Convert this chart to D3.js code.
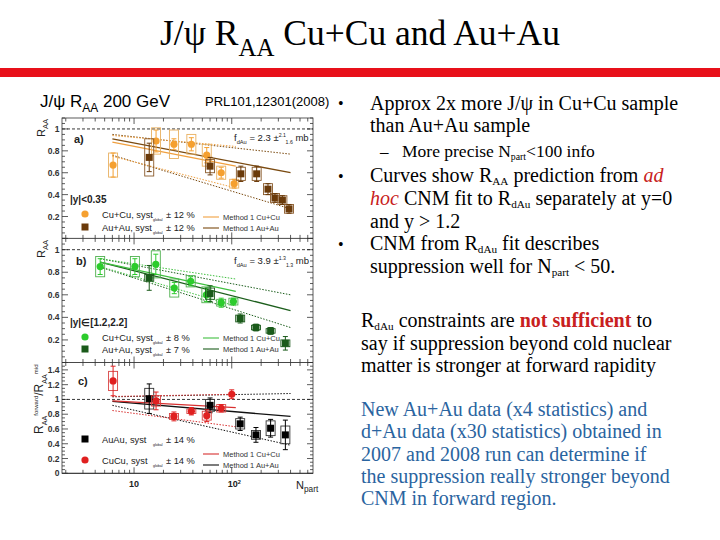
<!DOCTYPE html>
<html>
<head>
<meta charset="utf-8">
<script src="https://cdn.jsdelivr.net/npm/d3@7"></script>
<style>
body { margin: 0; background: #fff; }
svg { display: block; }
</style>
</head>
<body>
<svg width="720" height="540"></svg>
<script>
// ---- panel a) |y|<0.35 ----
var npartCuA = [6.1, 16.8, 25.6, 38.6, 55.5, 78, 106];
var raaCuA   = [0.67, 0.89, 0.86, 0.86, 0.76, 0.60, 0.50];
var statCuA  = [0.11, 0.10, 0.05, 0.06, 0.07, 0.05, 0.04];
var systCuA  = [0.11, 0.12, 0.13, 0.09, 0.10, 0.06, 0.04];
var npartAuA = [14.3, 60, 124, 180, 235, 277, 330, 386];
var raaAuA   = [0.74, 0.66, 0.59, 0.59, 0.45, 0.37, 0.35, 0.27];
var statAuA  = [0.13, 0.08, 0.07, 0.07, 0.05, 0.04, 0.04, 0.04];
var systAuA  = [0.17, 0.06, 0.06, 0.06, 0.05, 0.04, 0.04, 0.04];

// ---- panel b) |y| in [1.2,2.2] ----
var npartCuB = [4.5, 10.2, 16.7, 25.8, 38, 55, 78, 104];
var raaCuB   = [0.85, 0.85, 0.87, 0.66, 0.72, 0.60, 0.53, 0.54];
var statCuB  = [0.07, 0.07, 0.09, 0.05, 0.04, 0.06, 0.04, 0.03];
var systCuB  = [0.09, 0.09, 0.12, 0.08, 0.05, 0.07, 0.03, 0.03];
var npartAuB = [14.3, 60, 122, 177, 250, 354];
var raaAuB   = [0.75, 0.61, 0.39, 0.31, 0.28, 0.17];
var statAuB  = [0.11, 0.07, 0.04, 0.03, 0.03, 0.06];
var systAuB  = [0.03, 0.05, 0.03, 0.02, 0.02, 0.03];

// ---- panel c) forward / mid ----
var npartAuC = [14.3, 60, 122, 177, 250, 354];
var ratioAuC = [1.01, 0.92, 0.67, 0.52, 0.61, 0.52];
var statAuC  = [0.20, 0.10, 0.09, 0.10, 0.12, 0.20];
var systAuC  = [0.14, 0.08, 0.07, 0.06, 0.10, 0.12];
var npartCuC = [6.1, 16.8, 25.6, 38.6, 55.5, 78, 100];
var ratioCuC = [1.25, 0.98, 0.77, 0.84, 0.78, 0.88, 1.07];
var statCuC  = [0.20, 0.12, 0.06, 0.05, 0.08, 0.05, 0.06];
var systCuC  = [0.13, 0.07, 0.04, 0.03, 0.06, 0.05, 0.00];

// ---- CNM fit curves (Method 1): npart end points, then hi / mid / lo values ----
var curveNpartCu = [6, 110];
var curveNpartAu = [6, 400];
var curveNpartCuB = [4.5, 110];
var curveNpartAuB = [4.5, 400];
var curveCuA = {hi: [0.94, 0.84], mid: [0.88, 0.66], lo: [0.75, 0.46]};
var curveAuA = {hi: [0.95, 0.77], mid: [0.91, 0.60], lo: [0.76, 0.27]};
var curveCuB = {hi: [0.92, 0.74], mid: [0.89, 0.63], lo: [0.85, 0.50]};
var curveAuB = {hi: [0.92, 0.60], mid: [0.89, 0.46], lo: [0.845, 0.31]};
var curveCuC = {hi: [1.04, 1.07], mid: [0.98, 0.89], lo: [0.85, 0.63]};
var curveAuC = {hi: [1.035, 1.08], mid: [0.975, 0.77], lo: [0.92, 0.38]};

var yTicksA = [0.2, 0.4, 0.6, 0.8, 1];
var yTicksC = [0, 0.2, 0.4, 0.6, 0.8, 1, 1.2, 1.4];

var svg = d3.select("svg");
var serif = "'Liberation Serif', 'Times New Roman', serif";
var sans = "'Liberation Sans', Arial, sans-serif";

// text with sub/superscripts
function rich(parent, x, y, parts, size, family, fill) {
    var t = parent.append("text")
        .attr("x", x).attr("y", y)
        .attr("font-size", size)
        .attr("font-family", family)
        .attr("fill", fill || "#000")
    var shift = 0
    parts.forEach(function(p) {
        var s = typeof p === "string" ? {t: p} : p
        var target = s.sub ? size * (s.d || 0.3) : s.sup ? -size * 0.38 : 0
        var ts = t.append("tspan").attr("dy", target - shift).text(s.t)
        shift = target
        if (s.sub || s.sup) ts.attr("font-size", size * (s.k || 0.62))
        if (s.fill) ts.attr("fill", s.fill)
        if (s.bold) ts.attr("font-weight", "bold")
        if (s.italic) ts.attr("font-style", "italic")
    })
    return t
}
// subscript used in the slide's body text
function sub(s) { return {t: s, sub: true, k: 0.56, d: 0.15} }

// ---------- slide header ----------
rich(svg, 360, 45, ["J/ψ R", {t: "AA", sub: true, k: 0.7}, " Cu+Cu and Au+Au"], 35.5, serif)
    .attr("text-anchor", "middle")
svg.append("rect").attr("x", 0).attr("y", 68).attr("width", 720).attr("height", 9).attr("fill", "#e8101a")

rich(svg, 40, 107, ["J/ψ R", {t: "AA", sub: true, k: 0.7}, " 200 GeV"], 17, sans)
svg.append("text").attr("x", 205).attr("y", 106).attr("font-size", 13).attr("font-family", sans).text("PRL101,12301(2008)")

// ---------- plot ----------
var x = d3.scaleLog().domain([1.83, 679]).range([62, 313])
var panels = [
    {top: 118, bottom: 238.4, ymax: 1.1, ticks: yTicksA},
    {top: 238.4, bottom: 362.5, ymax: 1.1, ticks: yTicksA},
    {top: 362.5, bottom: 473.3, ymax: 1.5, ticks: yTicksC}
]
panels.forEach(function(p) {
    p.y = d3.scaleLinear().domain([0, p.ymax]).range([p.bottom, p.top])
})

var plot = svg.append("g")
plot.append("rect").attr("x", 62).attr("y", 118).attr("width", 251).attr("height", 355.3)
    .attr("fill", "#fff").attr("stroke", "#333").attr("stroke-width", 0.8)

var majorX = [10, 100]
var minorX = []
;[1, 10, 100].forEach(function(d) {
    for (var i = 2; i <= 9; i++) {
        var v = d * i
        if (v > 1.83 && v < 679) minorX.push(v)
    }
})

panels.forEach(function(p, pi) {
    var g = plot.append("g")
    g.append("line").attr("x1", 62).attr("x2", 313).attr("y1", p.bottom).attr("y2", p.bottom)
        .attr("stroke", "#333").attr("stroke-width", 0.9)
    // x ticks, top and bottom, inward
    minorX.concat(majorX).forEach(function(v) {
        var len = majorX.indexOf(v) >= 0 ? 6 : 3.5
        g.append("line").attr("x1", x(v)).attr("x2", x(v)).attr("y1", p.bottom).attr("y2", p.bottom - len)
            .attr("stroke", "#333").attr("stroke-width", 0.8)
        g.append("line").attr("x1", x(v)).attr("x2", x(v)).attr("y1", p.top).attr("y2", p.top + len)
            .attr("stroke", "#333").attr("stroke-width", 0.8)
    })
    // y ticks
    d3.range(0, p.ymax + 0.001, 0.05).forEach(function(v) {
        var major = Math.abs(v * 5 - Math.round(v * 5)) < 0.01
        var len = major ? 6 : 3
        g.append("line").attr("x1", 62).attr("x2", 62 + len).attr("y1", p.y(v)).attr("y2", p.y(v))
            .attr("stroke", "#333").attr("stroke-width", 0.8)
        g.append("line").attr("x1", 313).attr("x2", 313 - len).attr("y1", p.y(v)).attr("y2", p.y(v))
            .attr("stroke", "#333").attr("stroke-width", 0.8)
    })
    p.ticks.forEach(function(v) {
        g.append("text").attr("x", 59.5).attr("y", p.y(v) + 3).attr("text-anchor", "end")
            .attr("font-size", 8.5).attr("font-family", sans).attr("font-weight", "bold").attr("fill", "#333")
            .text(d3.format("~g")(v))
    })
    // dashed unity line
    g.append("line").attr("x1", 62).attr("x2", 313).attr("y1", p.y(1)).attr("y2", p.y(1))
        .attr("stroke", "#222").attr("stroke-width", 0.9).attr("stroke-dasharray", "3,2")
})

// x tick labels
rich(plot, x(10), 487, ["10"], 9, sans, "#222").attr("text-anchor", "middle").attr("font-weight", "bold")
rich(plot, x(100) - 4, 487, ["10", {t: "2", sup: true}], 9, sans, "#222").attr("font-weight", "bold")
rich(plot, 296, 489, ["N", {t: "part", sub: true, k: 0.75}], 11, sans, "#222")

// axis titles
rich(plot, 0, 0, ["R", {t: "AA", sub: true, k: 0.7}], 11, sans, "#222")
    .attr("transform", "translate(45,137) rotate(-90)")
rich(plot, 0, 0, ["R", {t: "AA", sub: true, k: 0.7}], 11, sans, "#222")
    .attr("transform", "translate(45,258) rotate(-90)")
rich(plot, 0, 0, ["R", {t: "AA", sub: true, k: 0.6}, {t: "forward", sup: true, k: 0.5}, "/R", {t: "AA", sub: true, k: 0.6}, {t: "mid", sup: true, k: 0.5}], 12, sans, "#222")
    .attr("transform", "translate(43,434) rotate(-90)")

// curves
function curve(p, npart, vals, color, dash, w) {
    var line = d3.line().x(function(d) { return x(d[0]) }).y(function(d) { return p.y(d[1]) })
    plot.append("path").attr("d", line(d3.zip(npart, vals)))
        .attr("fill", "none").attr("stroke", color).attr("stroke-width", w || 1.1)
        .attr("stroke-dasharray", dash ? "1.5,1.5" : null)
}
function curveSet(p, npart, c, color) {
    curve(p, npart, c.hi, color, true, 1)
    curve(p, npart, c.lo, color, true, 1)
    curve(p, npart, c.mid, color, false, 1.3)
}
curveSet(panels[0], curveNpartAu, curveAuA, "#7a4a10")
curveSet(panels[0], curveNpartCu, curveCuA, "#f0a040")
curveSet(panels[1], curveNpartAuB, curveAuB, "#1c5e1c")
curveSet(panels[1], curveNpartCuB, curveCuB, "#40c040")
curveSet(panels[2], curveNpartAu, curveAuC, "#111")
curveSet(panels[2], curveNpartCu, curveCuC, "#d83030")

// data points with stat bars and syst boxes
function series(p, npart, vals, stat, syst, color, boxColor, shape) {
    var g = plot.append("g")
    npart.forEach(function(n, i) {
        var cx = x(n), cy = p.y(vals[i])
        if (syst[i] > 0)
            g.append("rect").attr("x", cx - 4.5).attr("y", p.y(vals[i] + syst[i]))
                .attr("width", 9).attr("height", p.y(vals[i] - syst[i]) - p.y(vals[i] + syst[i]))
                .attr("fill", "none").attr("stroke", boxColor).attr("stroke-width", 0.9)
        g.append("line").attr("x1", cx).attr("x2", cx)
            .attr("y1", p.y(vals[i] + stat[i])).attr("y2", p.y(vals[i] - stat[i]))
            .attr("stroke", color).attr("stroke-width", 1)
        g.append("line").attr("x1", cx - 2.5).attr("x2", cx + 2.5)
            .attr("y1", p.y(vals[i] + stat[i])).attr("y2", p.y(vals[i] + stat[i])).attr("stroke", color)
        g.append("line").attr("x1", cx - 2.5).attr("x2", cx + 2.5)
            .attr("y1", p.y(vals[i] - stat[i])).attr("y2", p.y(vals[i] - stat[i])).attr("stroke", color)
        if (shape === "circle")
            g.append("circle").attr("cx", cx).attr("cy", cy).attr("r", 3.6).attr("fill", color)
        else
            g.append("rect").attr("x", cx - 3.5).attr("y", cy - 3.5).attr("width", 7).attr("height", 7).attr("fill", color)
    })
}
series(panels[0], npartCuA, raaCuA, statCuA, systCuA, "#f5a030", "#e8b060", "circle")
series(panels[0], npartAuA, raaAuA, statAuA, systAuA, "#6a3a0a", "#8a5a2a", "square")
series(panels[1], npartCuB, raaCuB, statCuB, systCuB, "#2ccc2c", "#50b050", "circle")
series(panels[1], npartAuB, raaAuB, statAuB, systAuB, "#1a5a1a", "#1a5a1a", "square")
series(panels[2], npartAuC, ratioAuC, statAuC, systAuC, "#000", "#333", "square")
series(panels[2], npartCuC, ratioCuC, statCuC, systCuC, "#e02020", "#d84040", "circle")

// panel labels
function plain(px, py, s, size, weight, fill) {
    return plot.append("text").attr("x", px).attr("y", py).attr("font-size", size)
        .attr("font-family", sans).attr("font-weight", weight || "normal").attr("fill", fill || "#222").text(s)
}
plain(74, 143, "a)", 11, "bold")
plain(76, 265, "b)", 11, "bold")
plain(78, 385, "c)", 11, "bold")
rich(plot, 234, 141, ["f", {t: "dAu", sub: true, k: 0.6}, " = 2.3 ±", {t: "2.1", sup: true, k: 0.55}, {t: "1.6", sub: true, k: 0.55}, " mb"], 9.5, sans, "#222")
rich(plot, 234, 264, ["f", {t: "dAu", sub: true, k: 0.6}, " = 3.9 ±", {t: "1.3", sup: true, k: 0.55}, {t: "1.3", sub: true, k: 0.55}, " mb"], 9.5, sans, "#222")

// legends
plain(70, 203, "|y|<0.35", 10, "bold")
plain(70, 326, "|y|∈[1.2,2.2]", 10, "bold")
function legendEntry(ly, label, pct, color, shape) {
    if (shape === "circle")
        plot.append("circle").attr("cx", 85).attr("cy", ly).attr("r", 3.6).attr("fill", color)
    else
        plot.append("rect").attr("x", 81.5).attr("y", ly - 3.5).attr("width", 7).attr("height", 7).attr("fill", color)
    rich(plot, 102, ly + 4, [label + ", syst"], 9.3, sans, "#222")
    rich(plot, 153, ly + 7, ["global"], 3.6, sans, "#222")
    rich(plot, 166, ly + 4, ["± " + pct + " %"], 9.3, sans, "#222")
}
function methodEntry(ly, label, color) {
    plot.append("line").attr("x1", 203).attr("x2", 219).attr("y1", ly).attr("y2", ly).attr("stroke", color).attr("stroke-width", 1.1)
    plain(223, ly + 2.5, label, 7.5, "normal", "#333")
}
legendEntry(214, "Cu+Cu", "12", "#f5a030", "circle")
legendEntry(227, "Au+Au", "12", "#6a3a0a", "square")
methodEntry(217, "Method 1 Cu+Cu", "#f0a040")
methodEntry(228, "Method 1 Au+Au", "#7a4a10")
legendEntry(337, "Cu+Cu", "8", "#2ccc2c", "circle")
legendEntry(349, "Au+Au", "7", "#1a5a1a", "square")
methodEntry(338, "Method 1 Cu+Cu", "#40c040")
methodEntry(349, "Method 1 Au+Au", "#1c5e1c")
legendEntry(439, "AuAu", "14", "#000", "square")
legendEntry(460, "CuCu", "14", "#e02020", "circle")
methodEntry(454, "Method 1 Cu+Cu", "#d83030")
methodEntry(465, "Method 1 Au+Au", "#111")

// ---------- right-hand text ----------
var red = "#c82020", blue = "#2a64a0"
function bullet(bx, by) {
    svg.append("text").attr("x", bx).attr("y", by).attr("font-size", 16).attr("font-family", serif).text("•")
}
bullet(338, 109); bullet(338, 182); bullet(338, 250)
rich(svg, 370, 110, ["Approx 2x more J/ψ in Cu+Cu sample"], 20, serif)
rich(svg, 370, 132, ["than Au+Au sample"], 20, serif)
svg.append("text").attr("x", 380).attr("y", 157).attr("font-size", 17).attr("font-family", serif).text("–")
rich(svg, 402, 157, ["More precise N", sub("part"), "<100 info"], 17.5, serif)
rich(svg, 370, 182, ["Curves show R", sub("AA"), " prediction from ", {t: "ad", italic: true, fill: red}], 20, serif)
rich(svg, 370, 205, [{t: "hoc", italic: true, fill: red}, " CNM fit to R", sub("dAu"), " separately at y=0"], 20, serif)
rich(svg, 370, 228, ["and y > 1.2"], 20, serif)
rich(svg, 370, 250, ["CNM from R", sub("dAu"), " fit describes"], 20, serif)
rich(svg, 370, 273, ["suppression well for N", sub("part"), " < 50."], 20, serif)

rich(svg, 361, 327, ["R", sub("dAu"), " constraints are ", {t: "not sufficient", bold: true, fill: red}, " to"], 20, serif)
rich(svg, 361, 350, ["say if suppression beyond cold nuclear"], 20, serif)
rich(svg, 361, 372, ["matter is stronger at forward rapidity"], 20, serif)

var blueLines = [
    "New Au+Au data (x4 statistics) and",
    "d+Au data (x30 statistics) obtained in",
    "2007 and 2008 run can determine if",
    "the suppression really stronger beyond",
    "CNM in forward region."
]
blueLines.forEach(function(s, i) {
    rich(svg, 361, 416 + i * 22.3, [s], 20, serif, blue)
})
</script>
</body>
</html>
